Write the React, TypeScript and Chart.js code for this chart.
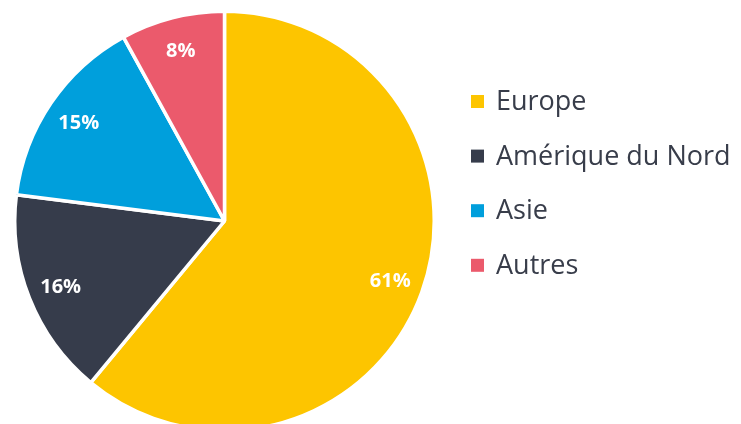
import React, { useEffect, useRef } from "react";
import { Chart, registerables } from "chart.js";

Chart.register(...registerables);

const categories = ["Europe", "Amérique du Nord", "Asie", "Autres"];
const shares = [61, 16, 15, 8];
const sliceColors = ["#FDC500", "#363C4B", "#009FDC", "#EB5A6C"];

const FONT = "'Open Sans', 'Noto Sans', sans-serif";

const labelPlugin = {
  id: "sliceLabels",
  afterDatasetsDraw(chart: any) {
    const ctx = chart.ctx;
    const meta = chart.getDatasetMeta(0);
    ctx.save();
    ctx.fillStyle = "#FFFFFF";
    ctx.font = `bold 20px ${FONT}`;
    ctx.textAlign = "center";
    ctx.textBaseline = "middle";
    meta.data.forEach((arc: any, i: number) => {
      const p = arc.getProps(["x", "y", "startAngle", "endAngle", "outerRadius"], true);
      const mid = (p.startAngle + p.endAngle) / 2;
      const r = p.outerRadius * 0.84;
      const v = chart.data.datasets[0].data[i];
      ctx.fillText(`${v}%`, p.x + Math.cos(mid) * r, p.y + Math.sin(mid) * r + 1);
    });
    ctx.restore();
  },
};

const legendPlugin = {
  id: "sideLegend",
  afterDraw(chart: any) {
    const ctx = chart.ctx;
    const labels = chart.data.labels as string[];
    const colors = chart.data.datasets[0].backgroundColor as string[];
    const boxX = 471;
    const textX = 496;
    const startY = 101.5;
    const step = 54.6;
    ctx.save();
    ctx.font = `27px ${FONT}`;
    ctx.textBaseline = "middle";
    ctx.textAlign = "left";
    labels.forEach((lab, i) => {
      const cy = startY + i * step;
      ctx.fillStyle = colors[i];
      ctx.fillRect(boxX, cy - 6.5, 13, 13);
      ctx.fillStyle = "#383D4A";
      ctx.fillText(lab, textX, cy + 1);
    });
    ctx.restore();
  },
};

export default function App() {
  const ref = useRef<HTMLCanvasElement | null>(null);
  useEffect(() => {
    document.body.style.margin = "0";
    document.body.style.overflow = "hidden";
    const chart = new Chart(ref.current as HTMLCanvasElement, {
      type: "pie",
      data: {
        labels: categories,
        datasets: [
          {
            data: shares,
            backgroundColor: sliceColors,
            borderColor: "#FFFFFF",
            borderWidth: 3.5,
          },
        ],
      },
      options: {
        responsive: false,
        animation: false,
        devicePixelRatio: 1,
        layout: { padding: { left: 13, top: 9.5, right: 305, bottom: 11.5 } },
        plugins: {
          legend: { display: false },
          tooltip: { enabled: false },
        },
      },
      plugins: [labelPlugin, legendPlugin],
    });
    return () => chart.destroy();
  }, []);
  return (
    <div style={{ position: "fixed", left: 0, top: 0, width: 741, height: 444, background: "#fff" }}>
      <canvas ref={ref} width={741} height={444} style={{ display: "block" }} />
    </div>
  );
}
